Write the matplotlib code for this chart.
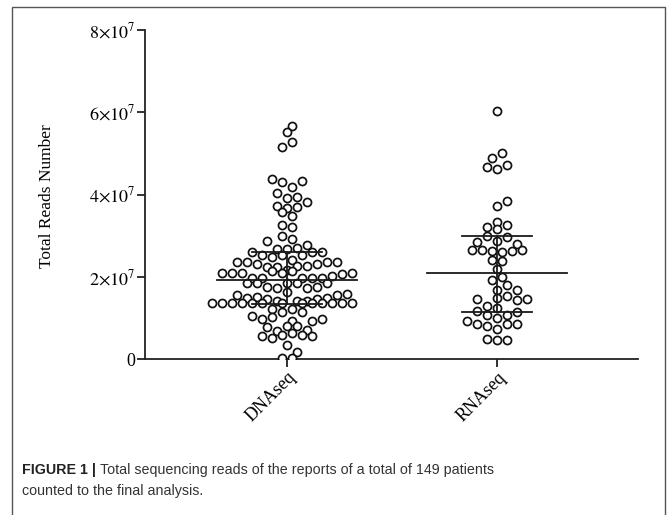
import numpy as np
import matplotlib.pyplot as plt
from matplotlib.patches import Rectangle

plt.rcParams['mathtext.fontset'] = 'stix'

groups = ["DNAseq", "RNAseq"]

# total reads per patient, in units of 1e7 (roughly left to right)
dna_reads = [5.67, 5.52, 5.15, 5.28,
             4.37, 4.31, 4.18, 4.32, 4.03, 3.91, 3.94,
             3.72, 3.66, 3.70, 3.82, 3.58, 3.47, 3.27, 3.21, 3.00, 2.91,
             2.88, 2.67, 2.67, 2.70, 2.77,
             2.59, 2.54, 2.49, 2.52, 2.41, 2.54, 2.59, 2.59,
             2.37, 2.37, 2.32, 2.23, 2.23, 2.17, 2.25, 2.25, 2.32, 2.36, 2.36,
             2.09, 2.09, 2.09, 1.97, 1.97, 2.13, 2.09, 2.13, 1.97, 1.97, 1.97, 2.02, 2.06, 2.09,
             1.85, 1.85, 1.74, 1.72, 1.85, 1.85, 1.72, 1.76, 1.85,
             1.56, 1.48, 1.50, 1.46, 1.42, 1.64, 1.42, 1.42, 1.46, 1.48, 1.55, 1.59,
             1.36, 1.36, 1.36, 1.36, 1.36, 1.36, 1.21, 1.36, 1.21, 1.36, 1.36, 1.36, 1.36,
             1.36, 1.36,
             1.05, 0.97, 1.01, 1.14, 0.93, 1.14, 0.93, 0.97,
             0.79, 0.67, 0.80, 0.80, 0.71,
             0.56, 0.52, 0.59, 0.63, 0.59, 0.55,
             0.33, 0.17, 0.02, 0.02]
rna_reads = [6.03, 4.88, 5.00, 4.66, 4.61, 4.72, 3.73, 3.84,
             3.34, 3.21, 3.16, 3.25,
             2.84, 2.98, 2.87, 2.96, 2.80,
             2.65, 2.65, 2.62, 2.59, 2.62, 2.65,
             2.41, 2.39, 2.20, 1.93, 2.00, 1.67, 1.79, 1.67,
             1.45, 1.30, 1.49, 1.54, 1.43, 1.45,
             1.17, 1.07, 1.23, 1.06, 1.14,
             0.92, 0.85, 0.80, 0.99, 0.85, 0.85, 0.74,
             0.48, 0.46, 0.46]

# centre line and whiskers
centers = [1.93, 2.10]
lows = [1.34, 1.15]
highs = [2.60, 2.98]

yticks = [0, 2, 4, 6, 8]
ylabels = ["0", r"$2{\times}10^{7}$", r"$4{\times}10^{7}$",
           r"$6{\times}10^{7}$", r"$8{\times}10^{7}$"]

PX_Y = 41.0    # pixels per 1e7
PX_X = 210.0   # pixels per category step


def column_scatter(vals, origin, h=0.25, step=10.0):
    # prism-like layout: bin values in rows, spread each row around the centre
    vals = np.asarray(vals)
    bins = np.floor((vals - origin) / h).astype(int)
    xs = np.zeros(len(vals))
    placed = []
    for b in sorted(set(bins)):
        idx = np.where(bins == b)[0]
        n = len(idx)
        base = (np.arange(n) - (n - 1) / 2) * step
        best, best_d = 0.0, -1
        for sh in (0, step / 2, -step / 2, step, -step):
            dmin = 1e9
            for j, i in enumerate(idx):
                for px, py in placed:
                    dd = np.hypot(base[j] + sh - px, vals[i] * PX_Y - py)
                    dmin = min(dmin, dd)
            if dmin >= 7.5:
                best = sh
                break
            if dmin > best_d:
                best, best_d = sh, dmin
        for j, i in enumerate(idx):
            xs[i] = base[j] + best
            placed.append((xs[i], vals[i] * PX_Y))
    return xs / PX_X


fig = plt.figure(figsize=(6.67, 5.15), dpi=100)
ax = fig.add_axes([145 / 667, 156 / 515, 493 / 667, 329 / 515])

line_c = "#1a1a1a"
for k, (vals, org) in enumerate([(dna_reads, 1.40), (rna_reads, 2.55)]):
    xpos = k + 1
    off = column_scatter(vals, org)
    ax.plot(xpos + off, np.array(vals) * 1e7, "o", ms=5.8, mfc="white",
            mec="#111111", mew=1.25, zorder=3)
    ax.plot([xpos - 70 / PX_X, xpos + 70 / PX_X], [centers[k] * 1e7] * 2,
            color=line_c, lw=1.3, zorder=4)
    for v in (lows[k], highs[k]):
        ax.plot([xpos - 35 / PX_X, xpos + 35 / PX_X], [v * 1e7] * 2,
                color=line_c, lw=1.3, zorder=4)
    ax.plot([xpos, xpos], [lows[k] * 1e7, highs[k] * 1e7], color=line_c, lw=1.3, zorder=4)

ax.set_xlim(1 - 142 / PX_X, 2 + 141 / PX_X)
ax.set_ylim(0, 8e7)
ax.set_yticks([t * 1e7 for t in yticks])
ax.set_yticklabels(ylabels, fontsize=13, family="Liberation Serif")
ax.set_xticks([1, 2])
ax.set_xticklabels(groups, fontsize=13, family="Liberation Serif",
                   rotation=45, ha="right", va="top", rotation_mode="anchor")
for s in ("top", "right"):
    ax.spines[s].set_visible(False)
for s in ("left", "bottom"):
    ax.spines[s].set_linewidth(1.3)
    ax.spines[s].set_color("#222222")
ax.tick_params(direction="out", length=5.5, width=1.3, color="#222222", pad=1.5)

fig.text(47 / 667, 1 - 196 / 515, "Total Reads Number", rotation=90,
         ha="center", va="center", fontsize=12.5, family="Liberation Serif")

# caption
fig.canvas.draw()
r = fig.canvas.get_renderer()
t1 = fig.text(22 / 667, 1 - 470 / 515, "FIGURE 1 |", fontsize=10.3, weight="bold",
              family="Liberation Sans", color="#222222", va="center")
bb = t1.get_window_extent(renderer=r)
fig.text(bb.x1 / fig.bbox.width + 4 / 667, 1 - 470 / 515,
         "Total sequencing reads of the reports of a total of 149 patients",
         fontsize=10.3, family="Liberation Sans", color="#333333", va="center")
fig.text(22 / 667, 1 - 491 / 515, "counted to the final analysis.",
         fontsize=10.3, family="Liberation Sans", color="#333333", va="center")

fig.patches.append(Rectangle((12 / 667, -0.05), 653 / 667, 1 - 7 / 515 + 0.05,
                             transform=fig.transFigure, fill=False,
                             edgecolor="#555555", lw=1.0))

fig.savefig("out.png", dpi=100)
